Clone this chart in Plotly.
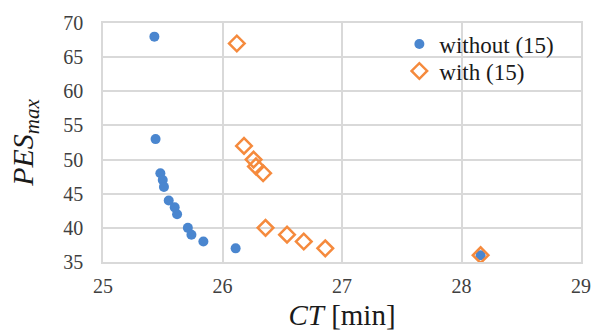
import plotly.graph_objects as go

without_ct = [25.43, 25.44, 25.48, 25.50, 25.51, 25.55, 25.60, 25.62, 25.71, 25.74, 25.84, 26.11, 28.16]
without_pes = [68, 53, 48, 47, 46, 44, 43, 42, 40, 39, 38, 37, 36]
with_ct = [26.12, 26.18, 26.26, 26.28, 26.34, 26.36, 26.54, 26.68, 26.86, 28.16]
with_pes = [67, 52, 50, 49, 48, 40, 39, 38, 37, 36]

x_ticks = [25, 26, 27, 28, 29]
y_ticks = [35, 40, 45, 50, 55, 60, 65, 70]

BLUE = "#4a86cf"
ORANGE = "#f58a3d"
GRID = "#d9d9d9"
FONT = "Liberation Serif, Times New Roman, serif"

fig = go.Figure()
fig.add_trace(go.Scatter(
    x=without_ct, y=without_pes, mode="markers", name="without (15)", legend="legend",
    marker=dict(symbol="circle", size=10, color=BLUE, line=dict(width=0)),
))
fig.add_trace(go.Scatter(
    x=with_ct, y=with_pes, mode="markers", name="with (15)", legend="legend2",
    marker=dict(symbol="diamond-open", size=12, color=ORANGE, line=dict(width=2.5, color=ORANGE)),
))

leg_common = dict(xanchor="left", yanchor="middle",
                  font=dict(family=FONT, size=23, color="#1a1a1a"),
                  bgcolor="rgba(0,0,0,0)", itemwidth=30)

fig.update_layout(
    width=592, height=335,
    margin=dict(l=103, r=11, t=23, b=73),
    plot_bgcolor="white", paper_bgcolor="white",
    font=dict(family=FONT, size=20, color="#404040"),
    showlegend=True,
    legend=dict(x=0.62, y=0.912, **leg_common),
    legend2=dict(x=0.62, y=0.799, **leg_common),
)
fig.update_xaxes(
    range=[25, 29], tickvals=x_ticks, showgrid=True, gridcolor=GRID, gridwidth=1.5,
    zeroline=False, showline=True, linecolor=GRID, linewidth=1.5, mirror=True,
    automargin=False,
    ticks="", ticklabelstandoff=5, tickfont=dict(family=FONT, size=20, color="#404040"),
    title=dict(text="<i>CT</i> [min]", font=dict(family=FONT, size=29, color="#1a1a1a"), standoff=9),
)
fig.update_yaxes(
    range=[35, 70], tickvals=y_ticks, showgrid=True, gridcolor=GRID, gridwidth=1.5,
    zeroline=False, showline=True, linecolor=GRID, linewidth=1.5, mirror=True,
    automargin=False,
    ticks="", ticklabelstandoff=14, tickfont=dict(family=FONT, size=20, color="#404040"),
    title=dict(text="<i>PES</i><sub><i>max</i></sub>", font=dict(family=FONT, size=30, color="#1a1a1a"), standoff=21),
)

fig.write_html("out.html", config={"displayModeBar": False},
               post_script="document.body.style.margin='0';document.body.style.overflow='hidden';")
